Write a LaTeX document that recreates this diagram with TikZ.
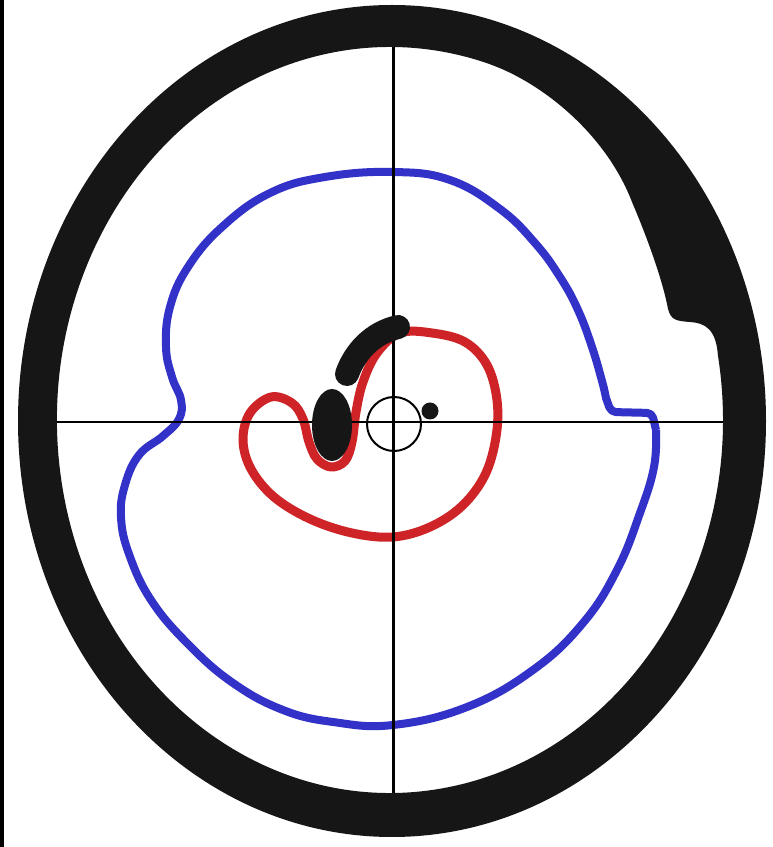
\documentclass[tikz,border=0pt]{standalone}
\usepackage{tikz}
\definecolor{ringblack}{RGB}{22,22,22}
\definecolor{penblue}{RGB}{50,50,200}
\definecolor{penred}{RGB}{206,36,40}
\tikzset{
  bluepen/.style={draw=penblue, line width=8pt, line join=round},
  redpen/.style={draw=penred, line width=9pt, line join=round},
  hair/.style={draw=black, line width=2.4pt},
  inkfill/.style={fill=ringblack}
}
\begin{document}
\begin{tikzpicture}[x=1pt,y=1pt]
\useasboundingbox (0,0) rectangle (773,847);
\fill[white] (0,0) rectangle (773,847);
% left border stripe
\fill[black] (0,0) rectangle (4,847);

% crosshair
\coordinate (hl) at (50,425);
\coordinate (hr) at (730,425);
\coordinate (vt) at (393.5,800);
\coordinate (vb) at (393.5,50);

% blue outline
\draw[bluepen]
  plot[smooth, tension=0.7] coordinates {
   (656,417) (654,380) (640,334) (617,277) (583,224) (533,177) (467,140)
   (393,122) (333,125) (283,137) (233,164) (188,203) (151,247) (129,293)
   (121,330) (125,362) (139,392) (163,411) (179,428) (181,447) (172,470)
   (166,500) (170,540) (188,580) (222,620) (270,654) (325,670) (393,675)
   (450,667) (500,638) (535,604) (560,570) (578,537) (592,500) (602,466)
   (606,449)}
  {[rounded corners=5pt] -- (611,435) -- (652,434) -- (656,417)};

% red spiral loop
\draw[redpen]
  plot[smooth cycle, tension=0.6] coordinates {
   (400,514) (432,514) (465,505) (487,482) (497,447) (496,410) (485,372)
   (462,341) (430,320) (393,310) (352,314) (310,328) (274,350) (251,378)
   (243,407) (250,434) (271,450) (292,444) (303,428) (309,405) (317,388)
   (331,380) (345,386) (352,405) (356,435) (363,465) (377,494)};

% crosshair lines
\draw[hair] (hl) -- (hr);
\draw[hair] (vt) -- (vb);

% black marks
\draw[ringblack, line width=24pt, line cap=round]
  (347,473) .. controls (355,495) and (372,514) .. (398,520);
\fill[inkfill] (332,422) ellipse [x radius=20, y radius=36];
\fill[inkfill] (430,436) circle (8.5);
\draw[black, line width=2pt] (394,423) circle (27);

% outer ring with bulge
\fill[inkfill, even odd rule]
  (392,426) ellipse [x radius=374, y radius=416]
  (490,782.7) .. controls (540,765) and (605,715) .. (632,645)
  .. controls (652,598) and (664,560) .. (668,538)
  .. controls (671,527) and (676,526) .. (690,525)
  .. controls (705,524) and (716,518) .. (717.9,491.8)
  arc[start angle=10, end angle=-287.5, x radius=333, y radius=373]
  -- cycle;
\end{tikzpicture}
\end{document}
